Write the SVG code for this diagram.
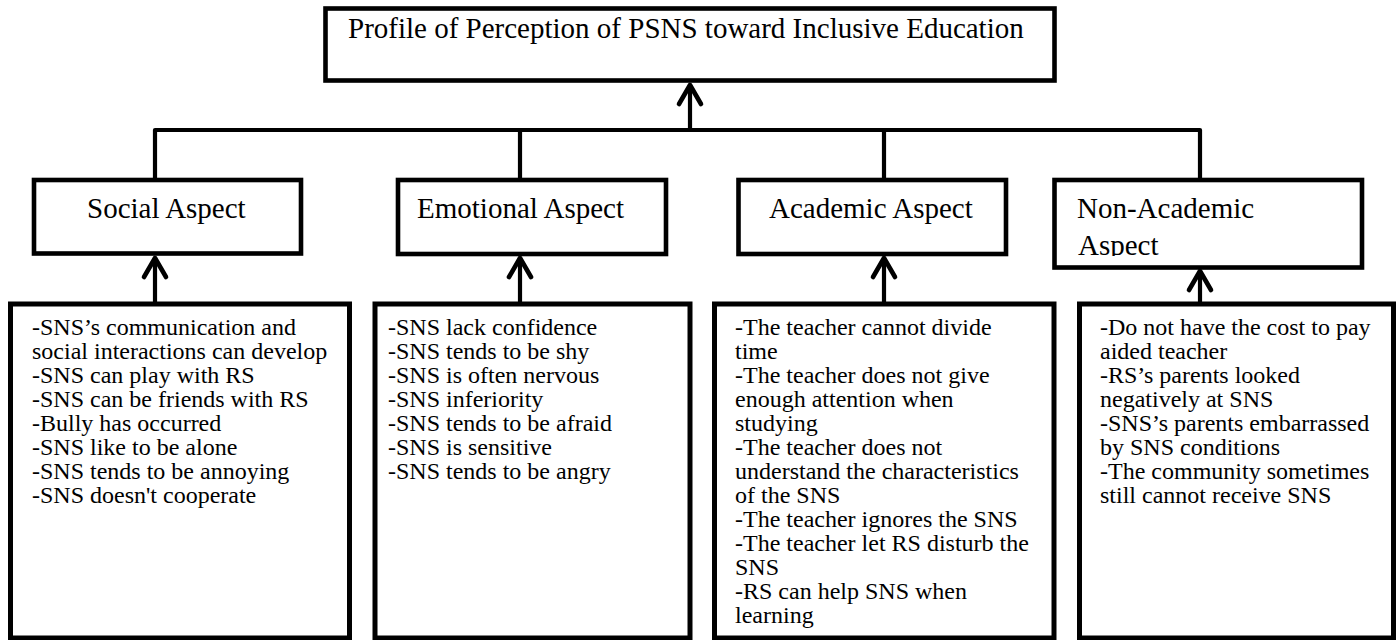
<svg xmlns="http://www.w3.org/2000/svg" width="1398" height="640" viewBox="0 0 1398 640">
<style>
.box{fill:#fff;stroke:#000;stroke-width:4.6}
.body{fill:#fff;stroke:#000;stroke-width:5}
.hd{font-family:"Liberation Serif","Times New Roman",serif;font-size:29px;fill:#000}
.tx{font-family:"Liberation Serif","Times New Roman",serif;font-size:24px;fill:#000}
.ln{fill:none;stroke:#000;stroke-width:4.2;stroke-linejoin:round}
</style>
<defs>
<marker id="arr" markerUnits="userSpaceOnUse" orient="auto" overflow="visible" refX="0" refY="0" markerWidth="1" markerHeight="1">
<path d="M-19,-11 L0,0 L-19,11" fill="none" stroke="#000" stroke-width="4.6" stroke-linecap="round" stroke-linejoin="round"/>
</marker>
<clipPath id="naclip"><rect x="1056" y="182" width="304" height="74"/></clipPath>
</defs>
<g id="connectors">
<path class="ln" d="M155,180 V130 H1200 V180"/>
<line class="ln" x1="520" y1="130" x2="520" y2="180"/>
<line class="ln" x1="884" y1="130" x2="884" y2="180"/>
<line class="ln" x1="690" y1="130" x2="690" y2="85" marker-end="url(#arr)"/>
<line class="ln" x1="155" y1="304" x2="155" y2="258" marker-end="url(#arr)"/>
<line class="ln" x1="520" y1="304" x2="520" y2="258" marker-end="url(#arr)"/>
<line class="ln" x1="884" y1="304" x2="884" y2="258" marker-end="url(#arr)"/>
<line class="ln" x1="1200" y1="304" x2="1200" y2="271" marker-end="url(#arr)"/>
</g>
<g id="title">
<rect class="box" x="325.5" y="8.5" width="729" height="72" stroke-width="5"/>
<text class="hd" x="348" y="38">Profile of Perception of PSNS toward Inclusive Education</text>
</g>
<g id="social">
<rect class="box" x="34" y="180" width="267" height="73.5"/>
<text class="hd" x="87" y="218">Social Aspect</text>
</g>
<g id="emotional">
<rect class="box" x="398" y="180" width="268" height="74"/>
<text class="hd" x="417" y="218">Emotional Aspect</text>
</g>
<g id="academic">
<rect class="box" x="738.5" y="180" width="267.5" height="74"/>
<text class="hd" x="769" y="218">Academic Aspect</text>
</g>
<g id="nonacademic">
<rect class="box" x="1054.5" y="180" width="307.5" height="87.5"/>
<text class="hd" x="1077" y="218">Non-Academic</text>
<text class="hd" x="1078" y="255" clip-path="url(#naclip)">Aspect</text>
</g>
<g id="social-items">
<rect class="body" x="10.5" y="304" width="339" height="334"/>
<text class="tx">
<tspan x="32" y="335">-SNS’s communication and</tspan>
<tspan x="32" y="359">social interactions can develop</tspan>
<tspan x="32" y="383">-SNS can play with RS</tspan>
<tspan x="32" y="407">-SNS can be friends with RS</tspan>
<tspan x="32" y="431">-Bully has occurred</tspan>
<tspan x="32" y="455">-SNS like to be alone</tspan>
<tspan x="32" y="479">-SNS tends to be annoying</tspan>
<tspan x="32" y="503">-SNS doesn't cooperate</tspan>
</text>
</g>
<g id="emotional-items">
<rect class="body" x="375" y="304" width="315" height="334"/>
<text class="tx">
<tspan x="388" y="335">-SNS lack confidence</tspan>
<tspan x="388" y="359">-SNS tends to be shy</tspan>
<tspan x="388" y="383">-SNS is often nervous</tspan>
<tspan x="388" y="407">-SNS inferiority</tspan>
<tspan x="388" y="431">-SNS tends to be afraid</tspan>
<tspan x="388" y="455">-SNS is sensitive</tspan>
<tspan x="388" y="479">-SNS tends to be angry</tspan>
</text>
</g>
<g id="academic-items">
<rect class="body" x="714.5" y="304" width="339.5" height="334"/>
<text class="tx">
<tspan x="735" y="335">-The teacher cannot divide</tspan>
<tspan x="735" y="359">time</tspan>
<tspan x="735" y="383">-The teacher does not give</tspan>
<tspan x="735" y="407">enough attention when</tspan>
<tspan x="735" y="431">studying</tspan>
<tspan x="735" y="455">-The teacher does not</tspan>
<tspan x="735" y="479">understand the characteristics</tspan>
<tspan x="735" y="503">of the SNS</tspan>
<tspan x="735" y="527">-The teacher ignores the SNS</tspan>
<tspan x="735" y="551">-The teacher let RS disturb the</tspan>
<tspan x="735" y="575">SNS</tspan>
<tspan x="735" y="599">-RS can help SNS when</tspan>
<tspan x="735" y="623">learning</tspan>
</text>
</g>
<g id="nonacademic-items">
<rect class="body" x="1079.5" y="304" width="314" height="334"/>
<text class="tx">
<tspan x="1100" y="335">-Do not have the cost to pay</tspan>
<tspan x="1100" y="359">aided teacher</tspan>
<tspan x="1100" y="383">-RS’s parents looked</tspan>
<tspan x="1100" y="407">negatively at SNS</tspan>
<tspan x="1100" y="431">-SNS’s parents embarrassed</tspan>
<tspan x="1100" y="455">by SNS conditions</tspan>
<tspan x="1100" y="479">-The community sometimes</tspan>
<tspan x="1100" y="503">still cannot receive SNS</tspan>
</text>
</g>
</svg>
